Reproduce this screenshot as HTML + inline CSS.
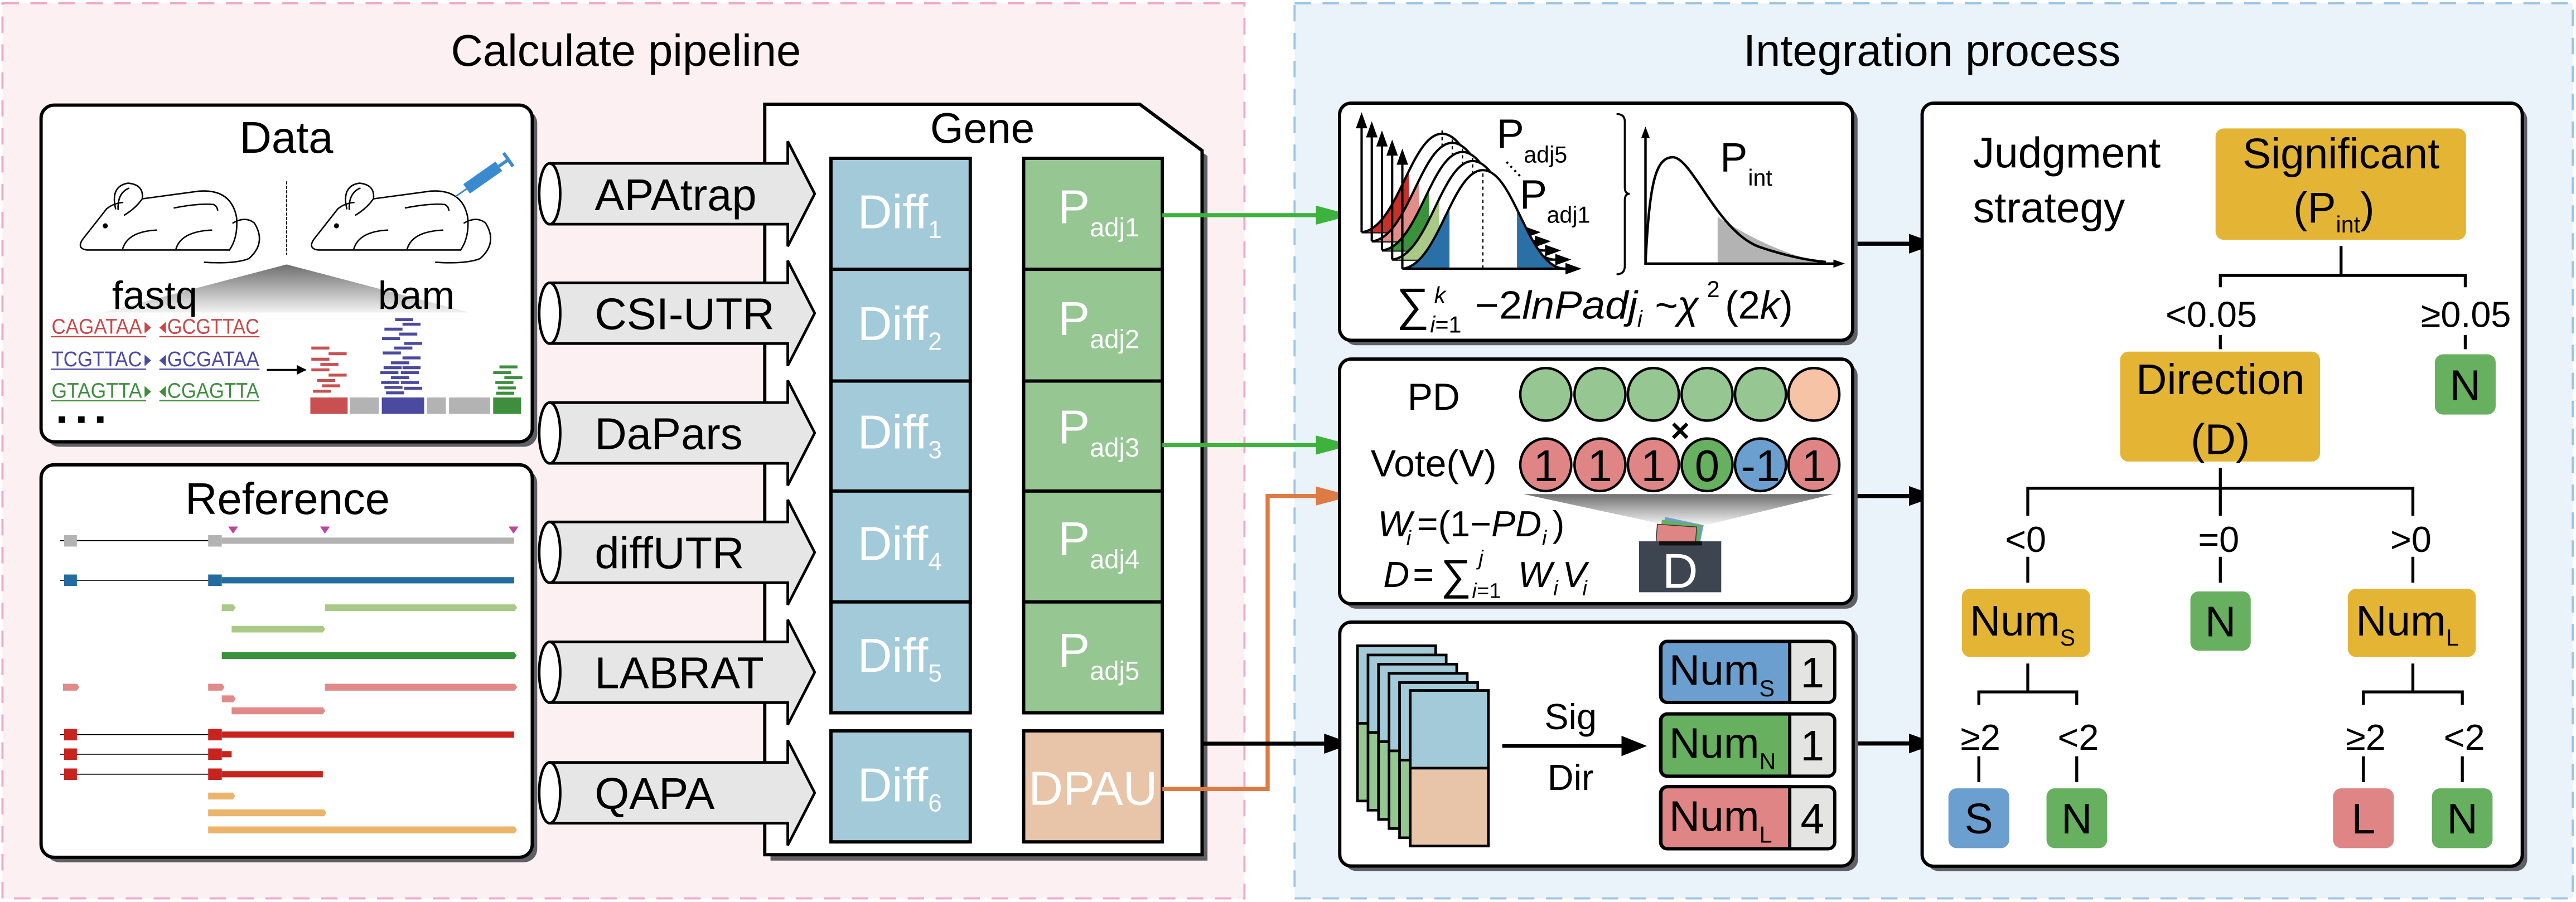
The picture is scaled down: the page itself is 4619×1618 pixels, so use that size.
<!DOCTYPE html>
<html><head><meta charset="utf-8"><style>html,body{margin:0;padding:0;background:#fff}svg{display:block}text{font-family:"Liberation Sans",sans-serif}</style></head><body>
<svg width="4619" height="1618" viewBox="0 0 1568 549.2" preserveAspectRatio="none" xmlns="http://www.w3.org/2000/svg">
<defs>
<linearGradient id="gtri" x1="0" y1="0" x2="0" y2="1"><stop offset="0" stop-color="#6e6e6e"/><stop offset="1" stop-color="#f2f2f2"/></linearGradient>
<marker id="ah" viewBox="0 0 10 10" refX="9" refY="5" markerWidth="5" markerHeight="5" orient="auto"><path d="M0,0L10,5L0,10z" fill="#000"/></marker>
</defs>
<!-- panels -->
<rect x="1.5" y="2" width="756" height="545" fill="#fcf0f3" stroke="#f0a8c8" stroke-width="1.3" stroke-dasharray="10,7"/>
<rect x="788" y="2" width="778" height="545" fill="#eaf2fa" stroke="#9cc4e4" stroke-width="1.3" stroke-dasharray="10,7"/>
<text x="381" y="40" font-size="27" text-anchor="middle">Calculate pipeline</text>
<text x="1176" y="40" font-size="27" text-anchor="middle">Integration process</text>

<!-- Data box -->
<rect x="28" y="67" width="299" height="205" rx="8" fill="#5f5f66"/>
<rect x="25" y="64" width="299" height="205" rx="8" fill="#fff" stroke="#000" stroke-width="2"/>
<text x="174.3" y="93" font-size="27" text-anchor="middle">Data</text>
<g transform="translate(0,50.9) scale(0.2165,0.1732)" fill="none" stroke="#000" stroke-width="2.6" vector-effect="non-scaling-stroke" stroke-linecap="round">
 <g id="mouse">
 <path vector-effect="non-scaling-stroke" d="M645,585 L245,585 Q215,580 232,548 L300,440 Q320,420 345,418"/>
 <path vector-effect="non-scaling-stroke" d="M400,405 L560,378 Q650,370 665,470 Q670,540 645,585"/>
 <path vector-effect="non-scaling-stroke" d="M325,440 Q310,360 360,350 Q405,355 400,405 Q380,440 350,462"/>
 <path vector-effect="non-scaling-stroke" d="M332,442 Q330,385 362,368"/>
 <path vector-effect="non-scaling-stroke" d="M345,580 Q360,520 440,515 M495,580 Q510,520 595,515 M490,437 Q560,420 600,425 Q610,430 612,445"/>
 <path vector-effect="non-scaling-stroke" d="M655,490 Q690,465 715,490 Q750,560 700,615 Q660,635 575,628"/>
 <ellipse cx="296" cy="500" rx="7" ry="9" fill="#000" stroke="none"/>
 </g>
 <use href="#mouse" x="650"/>
 <path vector-effect="non-scaling-stroke" d="M806,345 L806,600" stroke-dasharray="4,4" stroke-width="2"/>
</g>
<g transform="translate(284,115) rotate(-35)"><rect x="0" y="-3.5" width="24" height="7" fill="#3a8ad0"/><rect x="24" y="-1" width="6" height="2" fill="#3a8ad0"/><rect x="30" y="-5" width="2" height="10" fill="#3a8ad0"/><line x1="-8" y1="0" x2="0" y2="0" stroke="#3a8ad0" stroke-width="1"/></g>
<polygon points="174.5,161 285.8,190.3 62.8,190.3" fill="url(#gtri)"/>
<text x="94.2" y="188" font-size="24" text-anchor="middle">fastq</text>
<text x="253.4" y="188" font-size="24" text-anchor="middle">bam</text>
<g font-size="13">
<text x="31.4" y="203.2" fill="#c84848" textLength="55" lengthAdjust="spacingAndGlyphs">CAGATAA</text><text x="101.8" y="203.2" fill="#c84848" textLength="56" lengthAdjust="spacingAndGlyphs">GCGTTAC</text>
<text x="31.4" y="223" fill="#4a4aa0" textLength="55" lengthAdjust="spacingAndGlyphs">TCGTTAC</text><text x="101.8" y="223" fill="#4a4aa0" textLength="56" lengthAdjust="spacingAndGlyphs">GCGATAA</text>
<text x="31.4" y="242.2" fill="#3e8e3e" textLength="55" lengthAdjust="spacingAndGlyphs">GTAGTTA</text><text x="101.8" y="242.2" fill="#3e8e3e" textLength="56" lengthAdjust="spacingAndGlyphs">CGAGTTA</text>
</g>
<g stroke-width="0.8">
<path d="M31,205 H89 M97,205 H158" stroke="#c84848"/><path d="M31,224.8 H89 M97,224.8 H158" stroke="#4a4aa0"/><path d="M31,244 H89 M97,244 H158" stroke="#3e8e3e"/>
</g>
<path d="M88,196 l4,3.5 l-4,3.5z M101,196 l-4,3.5 l4,3.5z" fill="#c84848"/>
<path d="M88,216 l4,3.5 l-4,3.5z M101,216 l-4,3.5 l4,3.5z" fill="#4a4aa0"/>
<path d="M88,235 l4,3.5 l-4,3.5z M101,235 l-4,3.5 l4,3.5z" fill="#3e8e3e"/>
<rect x="35.7" y="253.5" width="4" height="4"/><rect x="47.5" y="253.5" width="4" height="4"/><rect x="59" y="253.5" width="4" height="4"/>
<line x1="162.4" y1="225.2" x2="186" y2="225.2" stroke="#000" stroke-width="1.2" marker-end="url(#ah)"/>
<rect x="188.9" y="242" width="22.7" height="10" fill="#c85050"/><rect x="212.9" y="242" width="17.7" height="10" fill="#b3b3b3"/><rect x="232.4" y="242" width="25.8" height="10" fill="#4a4aa0"/><rect x="259.9" y="242" width="11.5" height="10" fill="#b3b3b3"/><rect x="273.3" y="242" width="25.1" height="10" fill="#b3b3b3"/><rect x="300.2" y="242" width="17" height="10" fill="#3e8e3e"/>
<g fill="#c85050"><rect x="189.5" y="211" width="11" height="1.8"/><rect x="200" y="214.5" width="11" height="1.8"/><rect x="189.5" y="217.8" width="11" height="1.8"/><rect x="195" y="221" width="11" height="1.8"/><rect x="189.5" y="224.3" width="11" height="1.8"/><rect x="200" y="227.5" width="11" height="1.8"/><rect x="193" y="230.8" width="11" height="1.8"/><rect x="196" y="234" width="11" height="1.8"/><rect x="190.5" y="237.3" width="11" height="1.8"/></g>
<g fill="#4a4aa0"><rect x="240.5" y="193.7" width="11" height="1.8"/><rect x="245" y="196.5" width="11" height="1.8"/><rect x="234" y="199.5" width="11" height="1.8"/><rect x="243" y="202.5" width="11" height="1.8"/><rect x="232.5" y="205.3" width="11" height="1.8"/><rect x="246" y="208.2" width="11" height="1.8"/><rect x="240" y="211" width="11" height="1.8"/><rect x="233" y="214" width="11" height="1.8"/><rect x="245" y="217" width="11" height="1.8"/><rect x="238" y="220" width="11" height="1.8"/><rect x="233.5" y="223" width="11" height="1.8"/><rect x="245" y="223" width="11" height="1.8"/><rect x="231.5" y="226" width="11" height="1.8"/><rect x="244" y="226" width="11" height="1.8"/><rect x="238" y="229" width="11" height="1.8"/><rect x="232" y="232" width="11" height="1.8"/><rect x="244" y="232" width="11" height="1.8"/><rect x="234" y="235" width="11" height="1.8"/><rect x="246" y="235.5" width="11" height="1.8"/><rect x="235" y="238.3" width="11" height="1.8"/></g>
<g fill="#3e8e3e"><rect x="304" y="222.5" width="11" height="1.8"/><rect x="300.2" y="226" width="11" height="1.8"/><rect x="307" y="229" width="11" height="1.8"/><rect x="301.5" y="232" width="11" height="1.8"/><rect x="303" y="235.3" width="11" height="1.8"/><rect x="302" y="238.5" width="11" height="1.8"/></g>

<!-- Reference box -->
<rect x="28" y="286" width="299" height="239" rx="8" fill="#5f5f66"/>
<rect x="25" y="283" width="299" height="239" rx="8" fill="#fff" stroke="#000" stroke-width="2"/>
<text x="175" y="313" font-size="27" text-anchor="middle">Reference</text>
<g fill="#c0449a"><path d="M138.9,320.6h6l-3,4.3z M194.8,320.6h6l-3,4.3z M309.6,320.6h6l-3,4.3z"/></g>
<g stroke="#000" stroke-width="0.6"><line x1="36.4" y1="329.2" x2="127" y2="329.2"/><line x1="36.4" y1="353.3" x2="127" y2="353.3"/><line x1="36.4" y1="447.3" x2="127" y2="447.3"/><line x1="36.4" y1="459.2" x2="127" y2="459.2"/><line x1="36.4" y1="471.4" x2="127" y2="471.4"/></g>
<g fill="#b3b3b3"><rect x="39" y="325.8" width="7.8" height="7"/><rect x="126.7" y="325.8" width="8.3" height="7"/><rect x="135" y="327.3" width="178" height="3.8"/></g>
<g fill="#246ca0"><rect x="39" y="349.8" width="7.8" height="7"/><rect x="126.7" y="349.8" width="8.3" height="7"/><rect x="135" y="351.4" width="178" height="3.8"/></g>
<g fill="#c8241f"><rect x="39" y="443.8" width="7.8" height="7"/><rect x="126.7" y="443.8" width="8.3" height="7"/><rect x="135" y="445.4" width="178" height="3.8"/>
<rect x="39" y="455.7" width="7.8" height="7"/><rect x="126.7" y="455.7" width="8.3" height="7"/><rect x="135" y="457.3" width="6" height="3.8"/>
<rect x="39" y="467.9" width="7.8" height="7"/><rect x="126.7" y="467.9" width="8.3" height="7"/><rect x="135" y="469.5" width="61.5" height="3.8"/></g>
<g fill="#a8ca86"><path d="M135,368h7l1.5,2l-1.5,2h-7z M197.8,368h115.5l1.5,2l-1.5,2h-115.5z M141,381.1h55.5l1.5,2l-1.5,2h-55.5z"/></g>
<path d="M135,397.1h178l1.5,2.1l-1.5,2.1h-178z" fill="#3a923a"/>
<g fill="#e08a8a"><path d="M38.3,416.3h8.5l1.5,2.1l-1.5,2.1h-8.5z M126.7,416.3h8.5l1.5,2.1l-1.5,2.1h-8.5z M197.8,416.3h115.5l1.5,2.1l-1.5,2.1h-115.5z M135,423.4h7l1.5,2.1l-1.5,2.1h-7z M141,430.7h55.5l1.5,2.1l-1.5,2.1h-55.5z"/></g>
<g fill="#ebb46b"><path d="M126.7,482.6h15l1.5,2.1l-1.5,2.1h-15z M126.7,492.8h70.5l1.5,2.1l-1.5,2.1h-70.5z M126.7,503.2h186.5l1.5,2.1l-1.5,2.1h-186.5z"/></g>

<!-- Gene box -->
<polygon points="469,67 697,67 735,95 735,524 469,524" fill="#5f5f66"/>
<polygon points="465.5,63.5 693.8,63.5 731.7,91.7 731.7,520.4 465.5,520.4" fill="#fff" stroke="#000" stroke-width="2"/>
<text x="598" y="87" font-size="26" text-anchor="middle">Gene</text>
<g stroke="#000" stroke-width="2">
<rect x="505.8" y="96.4" width="84.8" height="67.6" fill="#a3cad8"/><rect x="505.8" y="164" width="84.8" height="68" fill="#a3cad8"/><rect x="505.8" y="232" width="84.8" height="67" fill="#a3cad8"/><rect x="505.8" y="299" width="84.8" height="67.5" fill="#a3cad8"/><rect x="505.8" y="366.5" width="84.8" height="67.5" fill="#a3cad8"/><rect x="505.8" y="445" width="84.8" height="67.6" fill="#a3cad8"/>
<rect x="623.1" y="96.4" width="84.4" height="67.6" fill="#96c793"/><rect x="623.1" y="164" width="84.4" height="68" fill="#96c793"/><rect x="623.1" y="232" width="84.4" height="67" fill="#96c793"/><rect x="623.1" y="299" width="84.4" height="67.5" fill="#96c793"/><rect x="623.1" y="366.5" width="84.4" height="67.5" fill="#96c793"/><rect x="623.1" y="445" width="84.4" height="67.6" fill="#e8c4a8"/>
</g>
<g fill="#fff" font-size="29">
<text x="522" y="139">Diff<tspan font-size="15" dy="6">1</tspan></text>
<text x="522" y="207">Diff<tspan font-size="15" dy="6">2</tspan></text>
<text x="522" y="273">Diff<tspan font-size="15" dy="6">3</tspan></text>
<text x="522" y="341">Diff<tspan font-size="15" dy="6">4</tspan></text>
<text x="522" y="409">Diff<tspan font-size="15" dy="6">5</tspan></text>
<text x="522" y="488">Diff<tspan font-size="15" dy="6">6</tspan></text>
<text x="644" y="136">P<tspan font-size="16" dy="8">adj1</tspan></text>
<text x="644" y="204">P<tspan font-size="16" dy="8">adj2</tspan></text>
<text x="644" y="270">P<tspan font-size="16" dy="8">adj3</tspan></text>
<text x="644" y="338">P<tspan font-size="16" dy="8">adj4</tspan></text>
<text x="644" y="406">P<tspan font-size="16" dy="8">adj5</tspan></text>
<text x="665.3" y="490" text-anchor="middle" font-size="29">DPAU</text>
</g>

<!-- tool arrows -->
<g stroke="#000" stroke-width="1.6" font-size="27">
<g><path d="M334.6,99.5H479.5V86L495.9,118L479.5,150V136.5H334.6Z" fill="#e6e6e6"/><ellipse cx="334.6" cy="118" rx="6.4" ry="18.5" fill="#fff"/><text x="362" y="128" stroke="none">APAtrap</text></g>
<g><path d="M334.6,172.2H479.5V158.7L495.9,190.7L479.5,222.7V209.2H334.6Z" fill="#e6e6e6"/><ellipse cx="334.6" cy="190.7" rx="6.4" ry="18.5" fill="#fff"/><text x="362" y="200.5" stroke="none">CSI-UTR</text></g>
<g><path d="M334.6,245.1H479.5V231.6L495.9,263.6L479.5,295.6V282.1H334.6Z" fill="#e6e6e6"/><ellipse cx="334.6" cy="263.6" rx="6.4" ry="18.5" fill="#fff"/><text x="362" y="273.5" stroke="none">DaPars</text></g>
<g><path d="M334.6,317.8H479.5V304.3L495.9,336.3L479.5,368.3V354.8H334.6Z" fill="#e6e6e6"/><ellipse cx="334.6" cy="336.3" rx="6.4" ry="18.5" fill="#fff"/><text x="362" y="346" stroke="none">diffUTR</text></g>
<g><path d="M334.6,390.8H479.5V377.3L495.9,409.3L479.5,441.3V427.8H334.6Z" fill="#e6e6e6"/><ellipse cx="334.6" cy="409.3" rx="6.4" ry="18.5" fill="#fff"/><text x="362" y="419" stroke="none">LABRAT</text></g>
<g><path d="M334.6,464.2H479.5V450.7L495.9,482.7L479.5,514.7V501.2H334.6Z" fill="#e6e6e6"/><ellipse cx="334.6" cy="482.7" rx="6.4" ry="18.5" fill="#fff"/><text x="362" y="492.5" stroke="none">QAPA</text></g>
</g>

<!-- connectors -->
<g stroke-width="2.5" fill="none">
<path d="M707.5,131H805" stroke="#3db33d"/><path d="M707.5,271H805" stroke="#3db33d"/>
<path d="M707.5,480.4H771.6V302H805" stroke="#de7b45"/>
<path d="M731.7,452.8H810" stroke="#000"/>
<path d="M1128,148.4H1165 M1128,302H1165 M1128,452.7H1165" stroke="#000"/>
</g>
<path d="M801,125.2L823,131L801,136.8z M801,265.2L823,271L801,276.8z" fill="#3db33d"/>
<path d="M801,296.2L823,302L801,307.8z" fill="#de7b45"/>
<path d="M806,446.7L823,452.8L806,458.9z M1162,142.4L1179,148.4L1162,154.4z M1162,296L1179,302L1162,308z M1162,446.7L1179,452.7L1162,458.7z" fill="#000"/>

<!-- Box1 -->
<rect x="818.4" y="65.8" width="312.3" height="144.4" rx="7" fill="#5f5f66"/>
<rect x="815.4" y="62.8" width="312.3" height="144.4" rx="7" fill="#fff" stroke="#000" stroke-width="2"/>
<defs>
<path id="bell" d="M0,0 C22,-2 30,-60 49,-60 C68,-60 76,-2 98,0 Z"/>
<clipPath id="lt"><rect x="0" y="-70" width="28.7" height="75"/></clipPath>
<clipPath id="rt"><rect x="69.8" y="-70" width="40" height="75"/></clipPath>
</defs>
<g stroke="#000" stroke-width="1.4">
<g transform="translate(828.8,141.4)"><path d="M0,0V-68M0,0H102" fill="none"/><path d="M-2.5,-64L0,-71L2.5,-64z M100,-2.5L107,0L100,2.5z" fill="#000"/><use href="#bell" fill="#fff" stroke="none"/><use href="#bell" fill="#c8302a" stroke="none" clip-path="url(#lt)"/><path d="M0,0 C22,-2 30,-60 49,-60 C68,-60 76,-2 98,0" fill="none"/><line x1="49" y1="0" x2="49" y2="-63" stroke-dasharray="2,2" stroke-width="0.8"/></g>
<g transform="translate(835,146.95)"><path d="M0,0V-68M0,0H102" fill="none"/><path d="M-2.5,-64L0,-71L2.5,-64z M100,-2.5L107,0L100,2.5z" fill="#000"/><use href="#bell" fill="#fff" stroke="none"/><use href="#bell" fill="#e38d8b" stroke="none" clip-path="url(#lt)"/><path d="M0,0 C22,-2 30,-60 49,-60 C68,-60 76,-2 98,0" fill="none"/><line x1="49" y1="0" x2="49" y2="-63" stroke-dasharray="2,2" stroke-width="0.8"/></g>
<g transform="translate(841.2,152.5)"><path d="M0,0V-68M0,0H102" fill="none"/><path d="M-2.5,-64L0,-71L2.5,-64z M100,-2.5L107,0L100,2.5z" fill="#000"/><use href="#bell" fill="#fff" stroke="none"/><use href="#bell" fill="#3a923a" stroke="none" clip-path="url(#lt)"/><path d="M0,0 C22,-2 30,-60 49,-60 C68,-60 76,-2 98,0" fill="none"/><line x1="49" y1="0" x2="49" y2="-63" stroke-dasharray="2,2" stroke-width="0.8"/></g>
<g transform="translate(847.4,158.05)"><path d="M0,0V-68M0,0H102" fill="none"/><path d="M-2.5,-64L0,-71L2.5,-64z M100,-2.5L107,0L100,2.5z" fill="#000"/><use href="#bell" fill="#fff" stroke="none"/><use href="#bell" fill="#a8ca86" stroke="none" clip-path="url(#lt)"/><path d="M0,0 C22,-2 30,-60 49,-60 C68,-60 76,-2 98,0" fill="none"/><line x1="49" y1="0" x2="49" y2="-63" stroke-dasharray="2,2" stroke-width="0.8"/></g>
<g transform="translate(853.6,163.6)"><path d="M0,0V-68M0,0H102" fill="none"/><path d="M-2.5,-64L0,-71L2.5,-64z M100,-2.5L107,0L100,2.5z" fill="#000"/><use href="#bell" fill="#fff" stroke="none"/><use href="#bell" fill="#2a6fa5" stroke="none" clip-path="url(#lt)"/><use href="#bell" fill="#2a6fa5" stroke="none" clip-path="url(#rt)"/><path d="M0,0 C22,-2 30,-60 49,-60 C68,-60 76,-2 98,0" fill="none"/><line x1="49" y1="0" x2="49" y2="-60" stroke-dasharray="2,2" stroke-width="0.8"/><path d="M0,0H102" fill="none"/></g>
</g>
<text x="911" y="90" font-size="25">P</text><text x="927.5" y="99" font-size="14">adj5</text>
<path d="M917,98.6L926,108" stroke="#000" stroke-width="1.3" stroke-dasharray="1.3,2.2"/>
<text x="925" y="127" font-size="25">P</text><text x="941.5" y="135.6" font-size="14">adj1</text>
<path d="M984,69.4 Q989,69.4 989,74 V114 Q989,118 992,118 Q989,118 989,122 V162 Q989,167 984,167" fill="none" stroke="#000" stroke-width="1.2"/>
<path d="M1045.5,160.5 V132 C1070,148 1095,158 1111.4,159.5 Z" fill="#b3b3b3"/>
<path d="M1001.6,160.5 C1004,110 1008,96 1018.2,95.7 C1030,96 1045,140 1070,150 C1090,157 1105,159 1111.4,159.5" fill="none" stroke="#000" stroke-width="1.5"/>
<path d="M1001.6,82V160.5H1118" fill="none" stroke="#000" stroke-width="1.5"/>
<path d="M999,84L1001.6,77L1004.2,84z M1116,158L1123,160.5L1116,163z" fill="#000"/>
<text x="1047" y="104.4" font-size="25">P</text><text x="1064" y="113" font-size="14">int</text>
<g font-family="Liberation Serif,serif" font-style="italic">
<text x="850" y="195" font-size="28" font-style="normal">∑</text>
<text x="873" y="184.6" font-size="14">k</text>
<text x="870.5" y="202.5" font-size="14">i<tspan font-style="normal">=1</tspan></text>
<text x="897.7" y="194" font-size="24" textLength="99" lengthAdjust="spacingAndGlyphs"><tspan font-style="normal">−2</tspan>lnPadj</text>
<text x="996.6" y="199" font-size="14">i</text>
<text x="1007" y="194" font-size="24">~χ</text>
<text x="1039" y="181" font-size="14" font-style="normal">2</text>
<text x="1050" y="194" font-size="24"><tspan font-style="normal">(2</tspan>k<tspan font-style="normal">)</tspan></text>
</g>

<!-- Box2 -->
<rect x="818.4" y="221.6" width="312.3" height="149" rx="7" fill="#5f5f66"/>
<rect x="815.4" y="218.6" width="312.3" height="149" rx="7" fill="#fff" stroke="#000" stroke-width="2"/>
<text x="872.7" y="249.4" font-size="23" text-anchor="middle">PD</text>
<text x="872.7" y="290" font-size="23" text-anchor="middle">Vote(V)</text>
<g stroke="#000" stroke-width="1.5">
<ellipse cx="940.9" cy="240.1" rx="15.5" ry="16" fill="#96c793"/><ellipse cx="973.9" cy="240.1" rx="15.5" ry="16" fill="#96c793"/><ellipse cx="1006.4" cy="240.1" rx="15.5" ry="16" fill="#96c793"/><ellipse cx="1039.1" cy="240.1" rx="15.5" ry="16" fill="#96c793"/><ellipse cx="1071.6" cy="240.1" rx="15.5" ry="16" fill="#96c793"/><ellipse cx="1104.1" cy="240.1" rx="15.5" ry="16" fill="#f7c3a6"/>
</g>
<polygon points="927.3,300.8 1116,300.8 1040,319.3 1012.5,319.3" fill="url(#gtri)"/>
<g stroke="#000" stroke-width="1.5">
<ellipse cx="940.9" cy="283" rx="15.5" ry="16" fill="#e08585"/><ellipse cx="973.9" cy="283" rx="15.5" ry="16" fill="#e08585"/><ellipse cx="1006.4" cy="283" rx="15.5" ry="16" fill="#e08585"/><ellipse cx="1039.1" cy="283" rx="15.5" ry="16" fill="#66b05f"/><ellipse cx="1071.6" cy="283" rx="15.5" ry="16" fill="#6a9fcf"/><ellipse cx="1104.1" cy="283" rx="15.5" ry="16" fill="#e08585"/>
</g>
<g font-size="27" text-anchor="middle"><text x="940.9" y="293">1</text><text x="973.9" y="293">1</text><text x="1006.4" y="293">1</text><text x="1039.1" y="293">0</text><text x="1071.6" y="293">-1</text><text x="1104.1" y="293">1</text></g>
<text x="1022.7" y="269" font-size="20" font-weight="bold" text-anchor="middle">×</text>
<rect x="1011" y="317" width="24" height="22" fill="#6a9fcf" transform="rotate(12 1023 328)"/>
<rect x="1010" y="318" width="24" height="22" fill="#66b05f" transform="rotate(8 1022 329)"/>
<rect x="1008" y="320" width="24" height="22" fill="#e08585" stroke="#333" stroke-width="0.5" transform="rotate(4 1020 331)"/>
<rect x="997.7" y="329.6" width="50" height="31" fill="#3d4550"/><rect x="1010" y="329.6" width="26" height="2.5" fill="#111"/>
<text x="1022.7" y="358" font-size="30" fill="#fff" text-anchor="middle">D</text>
<g font-family="Liberation Serif,serif" font-style="italic" font-size="22">
<text x="838.6" y="326.5">W</text><text x="856" y="332" font-size="13">i</text>
<text x="862.5" y="326.5" font-style="normal">=(1−<tspan font-style="italic">PD</tspan></text><text x="938.6" y="332" font-size="13">i</text><text x="945" y="326.5" font-style="normal">)</text>
<text x="842" y="357.4">D</text><text x="860" y="357.4" font-style="normal">=</text>
<text x="877" y="359" font-style="normal" font-size="26">∑</text><text x="900" y="344" font-size="13">j</text><text x="896" y="364" font-size="13">i<tspan font-style="normal">=1</tspan></text>
<text x="924" y="357.4">W</text><text x="945.5" y="362.5" font-size="13">i</text><text x="951" y="357.4">V</text><text x="963.2" y="362.5" font-size="13">i</text>
</g>

<!-- Box3 -->
<rect x="818.5" y="381.8" width="312.5" height="148.5" rx="7" fill="#5f5f66"/>
<rect x="815.5" y="378.8" width="312.5" height="148.5" rx="7" fill="#fff" stroke="#000" stroke-width="2"/>
<g stroke="#000" stroke-width="1.6">
<rect x="826.3" y="393.2" width="47.6" height="47.2" fill="#a3cad8"/><rect x="826.3" y="440.4" width="47.6" height="47.3" fill="#96c793"/>
<rect x="832.7" y="398.8" width="47.6" height="47.2" fill="#a3cad8"/><rect x="832.7" y="446" width="47.6" height="47.3" fill="#96c793"/>
<rect x="839.1" y="404.4" width="47.6" height="47.2" fill="#a3cad8"/><rect x="839.1" y="451.6" width="47.6" height="47.3" fill="#96c793"/>
<rect x="845.5" y="410" width="47.6" height="47.2" fill="#a3cad8"/><rect x="845.5" y="457.2" width="47.6" height="47.3" fill="#96c793"/>
<rect x="851.9" y="415.6" width="47.6" height="47.2" fill="#a3cad8"/><rect x="851.9" y="462.8" width="47.6" height="47.3" fill="#96c793"/>
<rect x="858.4" y="420.4" width="47.6" height="47.3" fill="#a3cad8"/><rect x="858.4" y="467.7" width="47.6" height="47.4" fill="#e8c4a8"/>
</g>
<line x1="914.4" y1="454.2" x2="990" y2="454.2" stroke="#000" stroke-width="2.2"/><path d="M987,448L1002.5,454.2L987,460.4z" fill="#000"/>
<text x="956" y="444" font-size="22" text-anchor="middle">Sig</text>
<text x="956" y="481" font-size="22" text-anchor="middle">Dir</text>
<g stroke="#000" stroke-width="2">
<rect x="1010.8" y="390.5" width="106" height="37.2" rx="4" fill="#e4e4e2"/><path d="M1089.4,390.5H1015a4,4 0 0 0-4,4V423.7a4,4 0 0 0 4,4H1089.4Z" fill="#6a9fcf"/>
<rect x="1010.8" y="434.7" width="106" height="37.9" rx="4" fill="#e4e4e2"/><path d="M1089.4,434.7H1015a4,4 0 0 0-4,4V468.6a4,4 0 0 0 4,4H1089.4Z" fill="#66b05f"/>
<rect x="1010.8" y="479" width="106" height="37.8" rx="4" fill="#e4e4e2"/><path d="M1089.4,479H1015a4,4 0 0 0-4,4V512.8a4,4 0 0 0 4,4H1089.4Z" fill="#df8585"/>
</g>
<g font-size="26">
<text x="1016" y="417">Num<tspan font-size="14" dy="7">S</tspan></text><text x="1103.2" y="418.5" text-anchor="middle">1</text>
<text x="1016" y="461.5">Num<tspan font-size="14" dy="7">N</tspan></text><text x="1103.2" y="463" text-anchor="middle">1</text>
<text x="1016" y="506">Num<tspan font-size="14" dy="7">L</tspan></text><text x="1103.2" y="507.5" text-anchor="middle">4</text>
</g>

<!-- Judgment box -->
<rect x="1173" y="65.8" width="365.3" height="464.6" rx="7" fill="#5f5f66"/>
<rect x="1170" y="62.8" width="365.3" height="464.6" rx="7" fill="#fff" stroke="#000" stroke-width="2"/>
<text x="1201" y="102" font-size="26">Judgment</text>
<text x="1201" y="135.5" font-size="26">strategy</text>
<g stroke="#000" stroke-width="1.8" fill="none">
<path d="M1425,149.8V167.7 M1351.5,174.9V167.7H1500.6V174.9 M1351.5,204V212.6 M1500.6,204V212.6"/>
<path d="M1351.5,284.8V314 M1234.3,314V297.3H1468.7V314 M1234.3,339V354.8 M1351.5,339V354.8 M1468.7,339V354.8"/>
<path d="M1234.3,404V421.3 M1204.5,429.2V421.3H1264.1V429.2 M1204.5,460.5V476.2 M1264.1,460.5V476.2"/>
<path d="M1468.7,404V421.3 M1438.6,429.2V421.3H1498.8V429.2 M1438.6,460.5V476.2 M1498.8,460.5V476.2"/>
</g>
<rect x="1348.6" y="78.2" width="152.5" height="67.8" rx="5" fill="#e4b535"/>
<text x="1425" y="102.5" font-size="26" text-anchor="middle">Significant</text>
<text x="1420.6" y="135.5" font-size="26" text-anchor="middle">(P<tspan font-size="14" dy="6">int</tspan><tspan dy="-6">)</tspan></text>
<g font-size="22" text-anchor="middle"><text x="1346" y="199">&lt;0.05</text><text x="1501" y="199">≥0.05</text>
<text x="1233" y="336">&lt;0</text><text x="1350.5" y="336">=0</text><text x="1467.5" y="336">&gt;0</text>
<text x="1205.5" y="456.5">≥2</text><text x="1265" y="456.5">&lt;2</text><text x="1440" y="456.5">≥2</text><text x="1500" y="456.5">&lt;2</text></g>
<rect x="1290.5" y="214.1" width="121.7" height="66.9" rx="5" fill="#e4b535"/>
<text x="1351.5" y="240" font-size="26" text-anchor="middle">Direction</text>
<text x="1351.5" y="276.5" font-size="26" text-anchor="middle">(D)</text>
<rect x="1482.1" y="215.7" width="37" height="36.7" rx="5" fill="#66b05f"/><text x="1500.6" y="243.5" font-size="26" text-anchor="middle">N</text>
<rect x="1194.2" y="358.5" width="78.1" height="41.5" rx="5" fill="#e4b535"/><text x="1199" y="387" font-size="26">Num<tspan font-size="14" dy="6">S</tspan></text>
<rect x="1333.3" y="360.1" width="36.7" height="36.1" rx="5" fill="#66b05f"/><text x="1351.6" y="387.5" font-size="26" text-anchor="middle">N</text>
<rect x="1429.1" y="358.5" width="77.9" height="41.5" rx="5" fill="#e4b535"/><text x="1434" y="387" font-size="26">Num<tspan font-size="14" dy="6">L</tspan></text>
<rect x="1186" y="480" width="37" height="36.4" rx="5" fill="#6a9fcf"/><text x="1204.5" y="507.5" font-size="26" text-anchor="middle">S</text>
<rect x="1245.7" y="480" width="36.9" height="36.4" rx="5" fill="#66b05f"/><text x="1264.1" y="507.5" font-size="26" text-anchor="middle">N</text>
<rect x="1420.1" y="480" width="37" height="36.4" rx="5" fill="#df8585"/><text x="1438.6" y="507.5" font-size="26" text-anchor="middle">L</text>
<rect x="1480.3" y="480" width="36.9" height="36.4" rx="5" fill="#66b05f"/><text x="1498.8" y="507.5" font-size="26" text-anchor="middle">N</text>
</svg>
</body></html>
